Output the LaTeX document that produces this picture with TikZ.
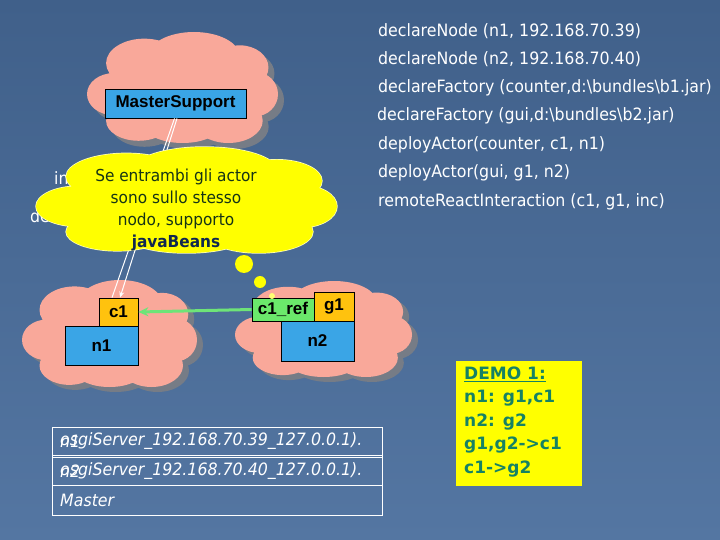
\documentclass[tikz,border=0pt]{standalone}
\usepackage{fontspec}
\usetikzlibrary{arrows.meta}
\newfontfamily\tah{DejaVu Sans}[FakeStretch=0.93]
\newfontfamily\arl{Liberation Sans}
\newfontfamily\verd{DejaVu Sans}
\definecolor{bgtop}{RGB}{64,96,138}
\definecolor{bgbot}{RGB}{84,118,162}
\definecolor{salmon}{RGB}{249,168,154}
\definecolor{cshadow}{RGB}{118,124,134}
\definecolor{bxblue}{RGB}{58,165,230}
\definecolor{bxorange}{RGB}{255,194,14}
\definecolor{bxgreen}{RGB}{107,232,107}
\definecolor{arrgreen}{RGB}{110,228,120}
\definecolor{ylw}{RGB}{255,255,0}
\definecolor{ylwedge}{RGB}{255,255,190}
\definecolor{ytext}{RGB}{22,52,22}
\definecolor{jbtext}{RGB}{16,40,80}
\definecolor{demotext}{RGB}{22,130,100}
% cloud as a union of ellipses in a box (x0,y0) of size w x h
\newcommand{\mycloudpath}{%
 (0.50,0.50) ellipse [x radius=0.36, y radius=0.34]
 (0.14,0.56) ellipse [x radius=0.14, y radius=0.19]
 (0.30,0.28) ellipse [x radius=0.20, y radius=0.22]
 (0.56,0.22) ellipse [x radius=0.24, y radius=0.22]
 (0.80,0.32) ellipse [x radius=0.15, y radius=0.20]
 (0.88,0.56) ellipse [x radius=0.12, y radius=0.20]
 (0.74,0.80) ellipse [x radius=0.18, y radius=0.20]
 (0.50,0.84) ellipse [x radius=0.20, y radius=0.16]
 (0.27,0.80) ellipse [x radius=0.17, y radius=0.18]}
\newcommand{\mycloud}[5]{%
 \begin{scope}[shift={(#1,#2)}, xscale=#3, yscale=#4]
  \path[#5] \mycloudpath;
 \end{scope}}
\begin{document}
\begin{tikzpicture}[x=1pt,y=-1pt,
 nbox/.style={draw=black, line width=0.8pt, inner sep=0pt, font=\arl\fontsize{17}{20}\selectfont\bfseries, text=black},
 listtext/.style={anchor=west, inner sep=0pt, text=white, font=\tah\fontsize{17}{20}\selectfont},
 tabtext/.style={anchor=west, inner sep=0pt, text=white, font=\tah\itshape\fontsize{17}{20}\selectfont},
 wline/.style={draw=white, line width=1pt},
 tline/.style={draw=white, line width=0.8pt},
 bubble/.style={circle, fill=ylw, inner sep=0pt},
 shadowfill/.style={fill=cshadow},
 salmonfill/.style={fill=salmon},
]
\useasboundingbox (0,0) rectangle (720,540);
\fill[top color=bgtop, bottom color=bgbot] (0,0) rectangle (720,540);

% hidden text behind the yellow cloud
\node[listtext] (hidA) at (54,178) {in};
\node[listtext] (hidB) at (30,216) {de};

% master cloud
\mycloud{93}{38}{191}{111}{shadowfill}
\mycloud{87}{32}{191}{111}{salmonfill}
\node[nbox, fill=bxblue, minimum width=141pt, minimum height=29pt] (ms) at (175.5,103.5) {MasterSupport};

% n1 cloud
\mycloud{28}{285}{175}{107}{shadowfill}
\mycloud{22}{280}{175}{107}{salmonfill}
\node[nbox, fill=bxblue, minimum width=73pt, minimum height=39pt] (n1) at (101.5,345.5) {n1};
\node[nbox, fill=bxorange, minimum width=39pt, minimum height=28pt] (c1) at (118.5,312) {c1};

% n2 cloud
\mycloud{241}{286}{177}{96}{shadowfill}
\mycloud{235}{281}{177}{96}{salmonfill}
\node[nbox, fill=bxblue, minimum width=73pt, minimum height=40pt] (n2) at (317.5,341) {n2};
\node[nbox, fill=bxorange, minimum width=40pt, minimum height=29pt] (g1) at (334,306.5) {g1};
\node[nbox, fill=bxgreen, minimum width=62pt, minimum height=23pt] (cref) at (283,309.5) {c1\_ref};

% white lines from MasterSupport to c1
\draw[wline] ([xshift=-1pt]ms.south) -- ([xshift=-6.5pt]c1.north);
\draw[wline,-{Stealth[length=6pt,width=5pt]}] ([xshift=1.5pt]ms.south) -- ([xshift=1.5pt]c1.north);

% yellow thought cloud
\mycloud{36}{147}{301}{106}{draw=ylwedge, line width=1.4pt}
\mycloud{36}{147}{301}{106}{fill=ylw}
\node[align=center, text=ytext, font=\tah\fontsize{16.5}{21.7}\selectfont, inner sep=0pt] (yt) at (176,210)
 {Se entrambi gli actor\\sono sullo stesso\\nodo, supporto\\{\color{jbtext}\bfseries javaBeans}};
\node[bubble, minimum size=18pt] (b1) at (244,264) {};
\node[bubble, minimum size=12pt] (b2) at (260,282) {};
\node[bubble, minimum size=6pt, fill=ylwedge!60!ylw] (b3) at (272,296) {};

% green reference arrow
\draw[draw=arrgreen, line width=3pt, -{Stealth[length=10pt,width=9pt]}] (cref.west) -- (c1.east);

% command list
\node[listtext] (l1) at (378,30.7) {declareNode (n1, 192.168.70.39)};
\node[listtext] (l2) at (378,59.3) {declareNode (n2, 192.168.70.40)};
\node[listtext] (l3) at (378,87.5) {declareFactory (counter,d:\textbackslash bundles\textbackslash b1.jar)};
\node[listtext] (l4) at (377,116) {declareFactory (gui,d:\textbackslash bundles\textbackslash b2.jar)};
\node[listtext] (l5) at (378,145) {deployActor(counter, c1, n1)};
\node[listtext] (l6) at (378,173) {deployActor(gui, g1, n2)};
\node[listtext] (l7) at (378,201.5) {remoteReactInteraction (c1, g1, inc)};

% table
\draw[tline] (52,427) rectangle (382,515);
\draw[tline] (52,455.5) -- (382,455.5);
\draw[tline] (52,457.5) -- (382,457.5);
\draw[tline] (52,485) -- (382,485);
\node[tabtext] (t1a) at (60,441.5) {n1};
\node[tabtext] (t1b) at (60,441.5) {osgiServer\_192.168.70.39\_127.0.0.1).};
\node[tabtext] (t2a) at (60,471) {n2};
\node[tabtext] (t2b) at (60,471) {osgiServer\_192.168.70.40\_127.0.0.1).};
\node[tabtext] (t3) at (60,500) {Master};

% demo box
\node[fill=ylw, minimum width=126pt, minimum height=125pt, inner sep=0pt] (demo) at (519,423.5) {};
\node[anchor=west, align=left, text=demotext, font=\verd\bfseries\fontsize{17}{23.5}\selectfont, inner sep=0pt] (demot) at (464,422)
 {\underline{DEMO 1:}\\n1: g1,c1\\n2: g2\\g1,g2->c1\\c1->g2};
\end{tikzpicture}
\end{document}
